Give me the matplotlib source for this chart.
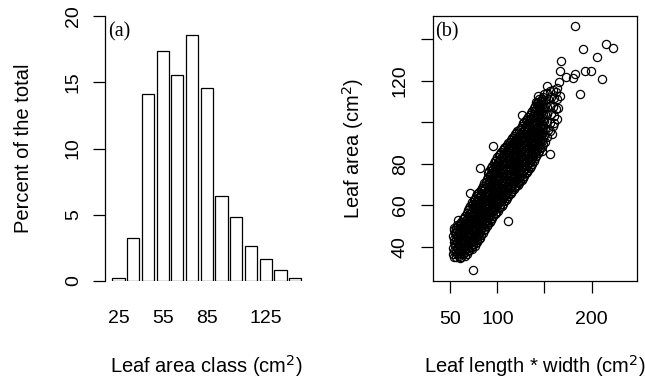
import matplotlib
matplotlib.use("Agg")
import matplotlib.pyplot as plt

# (a) leaf area classes (cm2) and percent of leaves in each class
classes = [25, 35, 45, 55, 65, 75, 85, 95, 105, 115, 125, 135, 145]
percent = [0.25, 3.22, 14.14, 17.33, 15.55, 18.57, 14.57, 6.39, 4.83, 2.62, 1.66, 0.83, 0.25]
labelled_classes = [25, 55, 85, 125]

# (b) leaf length * width vs leaf area (dense band + outliers)
points = [
    (53.2, 36.4), (52.8, 39.3), (53.5, 42.1), (53.0, 45.0), (53.6, 47.8),
    (54.5, 35.2), (54.3, 37.9), (54.7, 40.7), (54.4, 43.5), (54.8, 46.4), (54.2, 48.9),
    (55.8, 34.8), (56.3, 37.9), (55.5, 40.7), (56.1, 43.6), (55.7, 46.4), (56.4, 49.2),
    (57.3, 36.3), (57.1, 39.2), (57.5, 42.0), (57.2, 44.9), (57.6, 47.8), (57.0, 50.3),
    (58.9, 35.6), (58.4, 38.5), (59.3, 41.4), (58.7, 44.2), (59.2, 47.1), (58.6, 49.9),
    (60.3, 34.6), (60.1, 37.1), (60.5, 40.0), (60.2, 42.8), (60.6, 45.7), (60.0, 48.5), (60.4, 51.0),
    (61.7, 34.9), (62.2, 37.8), (61.4, 40.6), (62.0, 43.5), (61.6, 46.3), (62.3, 49.2), (61.8, 52.1),
    (63.1, 36.3), (62.9, 39.2), (63.3, 42.0), (63.0, 44.9), (63.4, 47.7), (62.8, 50.6), (63.2, 53.2),
    (64.6, 36.7), (64.1, 39.6), (64.9, 42.4), (64.4, 45.3), (65.0, 48.1), (64.3, 51.0), (64.8, 53.9),
    (66.0, 35.6), (65.8, 38.2), (66.2, 41.0), (65.9, 43.8), (66.3, 46.7), (65.7, 49.5), (66.1, 52.4), (65.8, 55.0),
    (67.4, 36.3), (67.9, 39.2), (67.1, 42.0), (67.6, 44.9), (67.2, 47.8), (67.8, 50.6), (67.3, 53.5), (67.7, 56.3),
    (68.8, 37.7), (68.6, 40.6), (69.0, 43.4), (68.7, 46.3), (69.1, 49.2), (68.5, 52.0), (68.9, 54.9), (68.6, 57.5),
    (70.3, 38.4), (69.9, 41.2), (70.6, 44.1), (70.1, 46.9), (70.7, 49.8), (70.0, 52.7), (70.5, 55.5), (70.2, 58.4),
    (71.7, 39.8), (71.5, 42.6), (71.9, 45.5), (71.6, 48.3), (72.0, 51.2), (71.4, 54.0), (71.8, 56.9), (71.5, 59.6),
    (73.1, 40.0), (72.7, 42.8), (73.4, 45.6), (72.9, 48.5), (73.5, 51.3), (72.8, 54.2), (73.3, 57.0), (73.0, 59.9), (73.6, 61.7),
    (74.5, 41.4), (74.3, 44.2), (74.7, 47.1), (74.4, 49.9), (74.8, 52.8), (74.2, 55.6), (74.6, 58.5), (74.3, 60.8), (74.7, 62.6),
    (76.0, 40.2), (75.6, 43.1), (76.3, 45.9), (75.8, 48.8), (76.4, 51.6), (75.7, 54.5), (76.2, 57.4), (75.9, 60.2), (76.5, 63.1),
    (77.4, 41.7), (77.2, 44.5), (77.6, 47.4), (77.3, 50.2), (77.7, 53.1), (77.1, 55.9), (77.5, 58.8), (77.2, 61.7), (77.6, 64.3),
    (78.8, 42.3), (79.3, 45.1), (78.5, 48.0), (79.1, 50.9), (78.6, 53.7), (79.2, 56.6), (78.7, 59.4), (79.4, 62.3), (78.9, 65.2),
    (80.2, 43.7), (80.0, 46.6), (80.4, 49.4), (80.1, 52.3), (80.5, 55.2), (79.9, 58.0), (80.3, 60.9), (80.0, 63.7), (80.4, 66.4),
    (81.7, 44.2), (81.3, 47.0), (82.0, 49.9), (81.5, 52.8), (82.1, 55.6), (81.4, 58.5), (81.9, 61.3), (81.6, 64.2), (82.2, 67.1),
    (83.1, 45.6), (82.9, 48.5), (83.3, 51.3), (83.0, 54.2), (83.4, 57.1), (82.8, 59.9), (83.2, 62.8), (82.9, 65.6), (83.3, 68.3),
    (84.5, 46.6), (84.9, 49.4), (84.2, 52.3), (84.7, 55.1), (84.1, 58.0), (84.8, 60.9), (84.3, 63.7), (84.9, 66.6), (84.4, 69.4),
    (86.0, 47.8), (85.8, 50.8), (86.2, 53.7), (85.9, 56.5), (86.3, 59.4), (85.7, 62.2), (86.1, 65.1), (85.8, 68.0), (86.2, 70.5),
    (87.4, 48.3), (87.0, 51.2), (87.7, 54.1), (87.2, 56.9), (87.8, 59.8), (87.1, 62.6), (87.6, 65.5), (87.3, 68.4), (87.9, 71.2),
    (88.8, 49.8), (88.6, 52.7), (89.0, 55.5), (88.7, 58.4), (89.1, 61.2), (88.5, 64.1), (88.9, 66.9), (88.6, 69.8), (89.0, 72.4),
    (90.2, 50.8), (90.6, 53.6), (89.9, 56.5), (90.4, 59.4), (89.8, 62.2), (90.5, 65.1), (90.0, 67.9), (90.7, 70.8), (90.1, 73.7), (90.6, 75.3),
    (91.7, 51.7), (91.5, 55.1), (91.9, 57.9), (91.6, 60.8), (92.0, 63.6), (91.4, 66.5), (91.8, 69.4), (91.5, 72.2), (91.9, 74.8), (91.6, 76.6),
    (93.1, 52.6), (92.7, 55.5), (93.4, 58.3), (92.9, 61.2), (93.5, 64.1), (92.8, 66.9), (93.3, 69.8), (93.0, 72.6), (93.6, 75.5), (92.9, 77.9),
    (94.5, 53.8), (94.3, 57.0), (94.7, 59.8), (94.4, 62.7), (94.8, 65.5), (94.2, 68.4), (94.6, 71.2), (94.3, 74.1), (94.7, 76.8), (94.4, 79.0),
    (95.9, 54.7), (96.3, 57.6), (95.6, 60.4), (96.1, 63.3), (95.5, 66.1), (96.2, 69.0), (95.7, 71.9), (96.4, 74.7), (95.8, 77.6), (96.3, 80.2),
    (97.4, 55.5), (97.2, 59.0), (97.6, 61.9), (97.3, 64.7), (97.7, 67.6), (97.1, 70.4), (97.5, 73.3), (97.2, 76.2), (97.6, 79.0), (97.3, 81.2),
    (98.8, 56.2), (98.4, 59.1), (99.1, 61.9), (98.6, 64.8), (99.2, 67.7), (98.5, 70.5), (99.0, 73.4), (98.7, 76.2), (99.3, 79.1), (98.6, 82.0),
    (100.2, 57.4), (100.0, 60.6), (100.4, 63.4), (100.1, 66.3), (100.5, 69.1), (99.9, 72.0), (100.3, 74.8), (100.0, 77.7), (100.4, 80.6), (100.1, 83.2),
    (101.6, 58.4), (102.0, 61.3), (101.3, 64.2), (101.8, 67.0), (101.2, 69.9), (101.9, 72.7), (101.4, 75.6), (102.1, 78.5), (101.5, 81.3), (101.9, 84.2),
    (103.0, 59.0), (102.8, 62.0), (103.2, 64.8), (102.9, 67.7), (103.3, 70.6), (102.7, 73.4), (103.1, 76.3), (102.8, 79.1), (103.2, 82.0), (102.9, 84.9),
    (104.5, 59.7), (104.1, 62.6), (104.8, 65.4), (104.3, 68.3), (104.9, 71.2), (104.2, 74.0), (104.7, 76.9), (104.4, 79.7), (105.0, 82.6), (104.3, 85.5),
    (105.9, 60.8), (105.7, 63.7), (106.1, 66.6), (105.8, 69.4), (106.2, 72.3), (105.6, 75.1), (106.0, 78.0), (105.7, 80.9), (106.1, 83.7), (105.8, 86.6),
    (107.3, 61.9), (107.7, 64.8), (107.0, 67.6), (107.5, 70.5), (106.9, 73.3), (107.6, 76.2), (107.1, 79.1), (107.8, 81.9), (107.2, 84.8), (107.6, 87.6),
    (108.7, 62.4), (108.5, 65.5), (108.9, 68.4), (108.6, 71.2), (109.0, 74.1), (108.4, 76.9), (108.8, 79.8), (108.5, 82.7), (108.9, 85.5), (108.6, 88.3),
    (110.2, 63.3), (109.8, 66.2), (110.5, 69.0), (110.0, 71.9), (110.6, 74.8), (109.9, 77.6), (110.4, 80.5), (110.1, 83.3), (110.7, 86.2), (110.0, 89.1),
    (111.6, 64.4), (111.4, 67.3), (111.8, 70.1), (111.5, 73.0), (111.9, 75.8), (111.3, 78.7), (111.7, 81.6), (111.4, 84.4), (111.8, 87.3), (111.5, 89.9),
    (113.0, 65.4), (113.4, 68.3), (112.7, 71.1), (113.2, 74.0), (112.6, 76.9), (113.3, 79.7), (112.8, 82.6), (113.5, 85.4), (112.9, 88.3), (113.3, 90.6),
    (114.4, 66.0), (114.2, 69.0), (114.6, 71.9), (114.3, 74.8), (114.7, 77.6), (114.1, 80.5), (114.5, 83.3), (114.2, 86.2), (114.6, 89.0), (114.3, 91.6),
    (115.9, 66.9), (115.5, 69.8), (116.2, 72.6), (115.7, 75.5), (116.3, 78.4), (115.6, 81.2), (116.1, 84.1), (115.8, 86.9), (116.4, 89.8), (115.7, 92.5),
    (117.3, 67.6), (117.1, 70.6), (117.5, 73.5), (117.2, 76.3), (117.6, 79.2), (117.0, 82.0), (117.4, 84.9), (117.1, 87.8), (117.5, 90.6), (117.2, 93.3),
    (118.7, 68.6), (119.1, 71.5), (118.4, 74.3), (118.9, 77.2), (118.3, 80.0), (119.0, 82.9), (118.5, 85.8), (119.2, 88.6), (118.6, 91.5), (119.0, 94.3),
    (120.1, 69.2), (119.9, 72.1), (120.3, 75.0), (120.0, 77.8), (120.4, 80.7), (119.8, 83.5), (120.2, 86.4), (119.9, 89.3), (120.3, 92.1), (120.0, 94.9),
    (121.6, 69.9), (121.2, 72.8), (121.9, 75.6), (121.4, 78.5), (122.0, 81.4), (121.3, 84.2), (121.8, 87.1), (121.5, 89.9), (122.1, 92.8), (121.4, 95.9),
    (123.0, 70.7), (122.8, 73.7), (123.2, 76.5), (122.9, 79.4), (123.3, 82.2), (122.7, 85.1), (123.1, 88.0), (122.8, 90.8), (123.2, 93.7), (122.9, 96.5),
    (124.4, 71.5), (124.8, 74.4), (124.1, 77.2), (124.6, 80.1), (124.0, 82.9), (124.7, 85.8), (124.2, 88.7), (124.9, 91.5), (124.3, 94.4), (124.7, 97.2),
    (125.8, 72.3), (125.6, 75.3), (126.0, 78.2), (125.7, 81.0), (126.1, 83.9), (125.5, 86.7), (125.9, 89.6), (125.6, 92.5), (126.0, 95.3), (125.7, 98.1),
    (127.3, 73.1), (126.9, 76.0), (127.6, 78.8), (127.1, 81.7), (127.7, 84.6), (127.0, 87.4), (127.5, 90.3), (127.2, 93.1), (127.8, 96.0), (127.1, 99.6),
    (128.7, 74.2), (128.5, 77.1), (128.9, 80.0), (128.6, 82.8), (129.0, 85.7), (128.4, 88.5), (128.8, 91.4), (128.5, 94.3), (128.9, 97.1), (128.6, 99.9),
    (130.1, 75.3), (130.5, 78.1), (129.8, 81.0), (130.3, 83.9), (129.7, 86.7), (130.4, 89.6), (129.9, 92.4), (130.6, 95.3), (130.0, 98.2), (130.4, 101.0),
    (131.5, 76.0), (131.3, 79.0), (131.7, 81.8), (131.4, 84.7), (131.8, 87.6), (131.2, 90.4), (131.6, 93.3), (131.3, 96.1), (131.7, 99.0), (131.4, 101.7),
    (133.0, 76.9), (132.6, 79.7), (133.3, 82.6), (132.8, 85.5), (133.4, 88.3), (132.7, 91.2), (133.2, 94.0), (132.9, 96.9), (133.5, 99.8), (132.8, 102.6),
    (134.4, 77.8), (134.2, 80.9), (134.6, 83.7), (134.3, 86.6), (134.7, 89.4), (134.1, 92.3), (134.5, 95.2), (134.2, 98.0), (134.6, 100.9), (134.3, 103.6),
    (135.8, 78.8), (136.2, 81.7), (135.5, 84.5), (136.0, 87.4), (135.4, 90.2), (136.1, 93.1), (135.6, 96.0), (136.3, 98.8), (135.7, 101.7), (136.1, 104.5),
    (137.2, 80.0), (137.0, 82.9), (137.4, 85.8), (137.1, 88.6), (137.5, 91.5), (136.9, 94.4), (137.3, 97.2), (137.0, 100.1), (137.4, 102.9), (137.1, 105.6),
    (138.7, 81.3), (138.3, 84.1), (139.0, 87.0), (138.5, 89.9), (139.1, 92.7), (138.4, 95.6), (138.9, 98.4), (138.6, 101.3), (139.2, 104.2), (138.5, 107.0),
    (140.1, 82.6), (139.9, 85.5), (140.3, 88.4), (140.0, 91.2), (140.4, 94.1), (139.8, 96.9), (140.2, 99.8), (139.9, 102.7), (140.3, 105.5), (140.0, 107.9),
    (141.5, 83.6), (141.9, 86.4), (141.2, 89.3), (141.7, 92.1), (141.1, 95.0), (141.8, 97.9), (141.3, 100.7), (142.0, 103.6), (141.4, 106.4), (141.8, 109.3),
    (142.9, 85.0), (142.7, 87.9), (143.1, 90.7), (142.8, 93.6), (143.2, 96.4), (142.6, 99.3), (143.0, 102.2), (142.7, 105.0), (143.1, 107.9), (142.8, 110.0),
    (144.4, 86.0), (144.0, 88.9), (144.7, 91.7), (144.2, 94.6), (144.8, 97.5), (144.1, 100.3), (144.6, 103.2), (144.3, 106.0), (144.9, 108.9), (144.2, 111.4),
    (145.8, 87.5), (145.6, 90.3), (146.0, 93.2), (145.7, 96.0), (146.1, 98.9), (145.5, 101.8), (145.9, 104.6), (145.6, 107.5), (146.0, 110.2),
    (147.2, 88.2), (147.6, 91.1), (146.9, 93.9), (147.4, 96.8), (146.8, 99.6), (147.5, 102.5), (147.0, 105.4), (147.7, 108.2), (147.1, 111.1),
    (148.6, 89.6), (148.4, 92.5), (148.8, 95.4), (148.5, 98.2), (148.9, 101.1), (148.3, 104.0), (148.7, 106.8), (148.4, 109.6), (148.8, 112.3),
    (150.1, 90.4), (149.7, 93.8), (150.4, 97.1), (149.9, 100.6), (150.5, 104.2), (149.8, 107.5), (150.3, 110.9), (150.0, 113.6),
    (153.0, 92.8), (153.4, 96.5), (152.7, 100.3), (153.2, 104.0), (152.6, 107.6), (153.3, 111.0), (152.9, 114.1),
    (156.2, 95.6), (155.8, 99.8), (156.5, 103.9), (156.0, 108.1), (156.6, 112.0), (155.9, 115.3),
    (159.5, 98.4), (159.9, 102.9), (159.2, 107.3), (159.7, 111.6), (159.3, 115.8),
    (163.1, 101.7), (162.7, 106.5), (163.4, 111.2), (162.9, 116.4),
    # scattered points away from the band
    (182.4, 146.6), (191.0, 135.5), (215.4, 137.8), (222.8, 135.7), (206.0, 131.7),
    (168.1, 129.6), (166.8, 124.8), (182.6, 123.5), (192.8, 124.9), (199.0, 124.7),
    (211.4, 121.1), (180.0, 121.2), (173.2, 122.1), (166.0, 119.5), (188.0, 113.8),
    (153.0, 117.3), (162.6, 114.8), (143.2, 112.9), (166.4, 112.7), (140.8, 109.6),
    (164.4, 106.8), (126.6, 103.6), (160.6, 99.8), (158.4, 94.4), (156.0, 84.9),
    (81.2, 78.0), (71.0, 65.8), (111.0, 52.4), (73.8, 28.6), (72.8, 39.0),
    (95.7, 88.6), (122.2, 71.2), (97.6, 59.0), (147.0, 86.0), (134.4, 82.0),
    (58.5, 52.9), (77.9, 43.2), (88.5, 51.3), (99.0, 60.2),
]
lw_product = [p[0] for p in points]
leaf_area = [p[1] for p in points]

plt.rcParams['font.family'] = ['Liberation Sans', 'DejaVu Sans']
plt.rcParams['font.size'] = 14

fig = plt.figure(figsize=(6.45, 3.81), dpi=100)

# panel (a): barplot of leaf area classes
ax1 = fig.add_axes([104.8 / 645, 100 / 381, 204 / 645, 265 / 381])
pos = list(range(len(classes)))
ax1.bar(pos, percent, width=1 / 1.2, color='white', edgecolor='black', linewidth=0.9)
ax1.set_xlim(-0.93, 12.93)
ax1.set_ylim(0, 20)
ax1.set_yticks([0, 5, 10, 15, 20])
ax1.set_xticks([classes.index(c) for c in labelled_classes])
ax1.set_xticklabels([str(c) for c in labelled_classes])
for s in ['top', 'right', 'bottom']:
    ax1.spines[s].set_visible(False)
ax1.spines['left'].set_linewidth(0.9)
ax1.tick_params(axis='x', length=0, pad=21)
ax1.tick_params(axis='y', length=8.5, width=0.9, pad=8, labelrotation=90)
for t in ax1.get_yticklabels():
    t.set_va('center')
ax1.set_ylabel('Percent of the total', fontsize=14.5)
ax1.yaxis.set_label_coords(-0.35, 0.5)
ax1.set_xlabel('Leaf area class (cm$^2$)', va='baseline', fontsize=14.5)
ax1.xaxis.set_label_coords(0.5, -0.347)
ax1.text(0.016, 0.978, '(a)', transform=ax1.transAxes, ha='left', va='top',
         family=['Liberation Serif', 'DejaVu Serif'], fontsize=14.5)

# panel (b): scatter of leaf area against length * width
ax2 = fig.add_axes([433.3 / 645, 100 / 381, 203.4 / 645, 265 / 381])
ax2.plot(lw_product, leaf_area, linestyle='none', marker='o', markersize=5.9,
         markerfacecolor='none', markeredgecolor='black', markeredgewidth=0.9)
ax2.set_xlim(32, 248)
ax2.set_ylim(23.4, 151.3)
ax2.set_xticks([50, 100, 150, 200])
ax2.set_xticklabels(['50', '100', '', '200'])
ax2.set_yticks([40, 60, 80, 100, 120, 140])
ax2.set_yticklabels(['40', '60', '80', '', '120', ''])
for s in ax2.spines.values():
    s.set_linewidth(0.9)
ax2.tick_params(axis='x', length=8.5, width=0.9, pad=13)
ax2.tick_params(axis='y', length=8.5, width=0.9, pad=9, labelrotation=90)
for t in ax2.get_yticklabels():
    t.set_va('center')
ax2.set_ylabel('Leaf area (cm$^2$)', fontsize=14.5)
ax2.yaxis.set_label_coords(-0.33, 0.5)
ax2.set_xlabel('Leaf length * width (cm$^2$)', va='baseline', fontsize=14.5)
ax2.xaxis.set_label_coords(0.5, -0.347)
ax2.text(0.008, 0.978, '(b)', transform=ax2.transAxes, ha='left', va='top',
         family=['Liberation Serif', 'DejaVu Serif'], fontsize=14.5)

fig.savefig('out.png', dpi=100)
